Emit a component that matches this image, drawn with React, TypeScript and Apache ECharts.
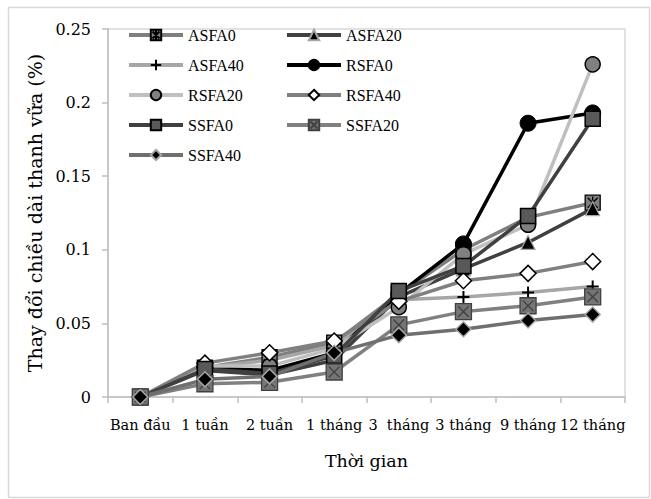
import React, { useEffect, useRef } from "react";
import * as echarts from "echarts";

const categories = ["Ban đầu", "1 tuần", "2 tuần", "1 tháng", "3  tháng", "3 tháng", "9 tháng", "12 tháng"];
const yTicks = [0, 0.05, 0.1, 0.15, 0.2, 0.25];

const ASFA0 = [0, 0.02, 0.027, 0.037, 0.07, 0.1, 0.122, 0.132];
const ASFA20 = [0, 0.018, 0.015, 0.025, 0.068, 0.087, 0.105, 0.128];
const ASFA40 = [0, 0.02, 0.025, 0.035, 0.066, 0.068, 0.071, 0.075];
const RSFA0 = [0, 0.02, 0.018, 0.03, 0.07, 0.104, 0.186, 0.193];
const RSFA20 = [0, 0.021, 0.021, 0.033, 0.061, 0.097, 0.117, 0.226];
const RSFA40 = [0, 0.023, 0.03, 0.038, 0.065, 0.079, 0.084, 0.092];
const SSFA0 = [0, 0.019, 0.016, 0.028, 0.072, 0.089, 0.123, 0.189];
const SSFA20 = [0, 0.009, 0.01, 0.017, 0.049, 0.058, 0.062, 0.068];
const SSFA40 = [0, 0.012, 0.014, 0.03, 0.042, 0.046, 0.052, 0.056];

const STAR_SQUARE = "path://M0,0L12,0L12,12L0,12Z M2,2L10,10 M10,2L2,10 M6,1L6,11";
const X_SQUARE = "path://M0,0L12,0L12,12L0,12Z M2,2L10,10 M10,2L2,10";
const PLUS = "path://M6,0L6,12 M0,6L12,6";

const FONT = "DejaVu Serif";
const LEGEND_FONT = "Liberation Serif";

const seriesDefs = [
  { name: "ASFA0", data: ASFA0, line: "#7f7f7f", symbol: STAR_SQUARE, size: 15, fill: "#7f7f7f", border: "#000000", bw: 1.3 },
  { name: "ASFA20", data: ASFA20, line: "#404040", symbol: "triangle", size: 14, fill: "#000000", border: "#a6a6a6", bw: 1.2 },
  { name: "ASFA40", data: ASFA40, line: "#a6a6a6", symbol: PLUS, size: 12, fill: "#000000", border: "#000000", bw: 2 },
  { name: "RSFA0", data: RSFA0, line: "#000000", symbol: "circle", size: 16, fill: "#000000", border: "#000000", bw: 1 },
  { name: "RSFA20", data: RSFA20, line: "#bfbfbf", symbol: "circle", size: 15, fill: "#808080", border: "#000000", bw: 1.5 },
  { name: "RSFA40", data: RSFA40, line: "#808080", symbol: "diamond", size: 16, fill: "#ffffff", border: "#000000", bw: 1.5 },
  { name: "SSFA0", data: SSFA0, line: "#404040", symbol: "rect", size: 15, fill: "#595959", border: "#000000", bw: 1.5 },
  { name: "SSFA20", data: SSFA20, line: "#808080", symbol: X_SQUARE, size: 16, fill: "#757575", border: "#404040", bw: 1.3 },
  { name: "SSFA40", data: SSFA40, line: "#6f6f6f", symbol: "diamond", size: 15, fill: "#000000", border: "#a6a6a6", bw: 1.5 },
];

export default function App() {
  const ref = useRef<HTMLDivElement>(null);
  useEffect(() => {
    if (!ref.current) return;
    const chart = echarts.init(ref.current, undefined, { renderer: "svg" });
    const legendCommon = {
      orient: "vertical",
      padding: 0,
      itemWidth: 54,
      itemHeight: 13,
      itemGap: 14,
      lineStyle: { width: 4 },
      textStyle: { fontFamily: LEGEND_FONT, fontSize: 16, color: "#000" },
      selectedMode: false,
    };
    chart.setOption({
      animation: false,
      backgroundColor: "#ffffff",
      textStyle: { fontFamily: FONT },
      grid: {
        left: 108,
        top: 29,
        right: 26,
        bottom: 102,
        show: true,
        borderColor: "#d9d9d9",
        borderWidth: 1.5,
      },
      legend: [
        { ...legendCommon, left: 127, top: 27, data: ["ASFA0", "ASFA40", "RSFA20", "SSFA0", "SSFA40"] },
        { ...legendCommon, left: 285, top: 27, data: ["ASFA20", "RSFA0", "RSFA40", "SSFA20"] },
      ],
      graphic: [
        {
          type: "rect",
          shape: { x: 8.5, y: 7.5, width: 641, height: 490 },
          style: { fill: "none", stroke: "#d9d9d9", lineWidth: 1.5 },
          silent: true,
          z: -10,
        },
      ],
      xAxis: {
        type: "category",
        data: categories,
        boundaryGap: true,
        name: "Thời gian",
        nameLocation: "middle",
        nameGap: 55,
        nameTextStyle: { fontFamily: FONT, fontSize: 17.5, color: "#000" },
        axisLine: { lineStyle: { color: "#bfbfbf", width: 1.5 } },
        axisTick: { show: true, length: 6, lineStyle: { color: "#bfbfbf", width: 1.5 } },
        axisLabel: { fontFamily: FONT, fontSize: 14.5, color: "#000", margin: 20, interval: 0 },
        splitLine: { show: false },
      },
      yAxis: {
        type: "value",
        min: yTicks[0],
        max: yTicks[yTicks.length - 1],
        interval: 0.05,
        name: "Thay đổi chiều dài thanh vữa (%)",
        nameLocation: "middle",
        nameRotate: 90,
        nameGap: 59,
        nameTextStyle: { fontFamily: FONT, fontSize: 19, color: "#000" },
        axisLine: { show: true, lineStyle: { color: "#bfbfbf", width: 1.5 } },
        axisTick: { show: true, length: 6, lineStyle: { color: "#bfbfbf", width: 1.5 } },
        axisLabel: { fontFamily: FONT, fontSize: 16, color: "#000", margin: 17 },
        splitLine: { show: false },
      },
      series: seriesDefs.map((s) => ({
        name: s.name,
        type: "line",
        data: s.data,
        symbol: s.symbol,
        symbolSize: s.size,
        showAllSymbol: true,
        lineStyle: { color: s.line, width: 3.5 },
        itemStyle: { color: s.fill, borderColor: s.border, borderWidth: s.bw },
        emphasis: { disabled: true },
      })),
    });
    return () => chart.dispose();
  }, []);
  return (
    <div
      ref={ref}
      style={{ position: "absolute", left: 0, top: 0, width: 651, height: 499, background: "#fff" }}
    />
  );
}
